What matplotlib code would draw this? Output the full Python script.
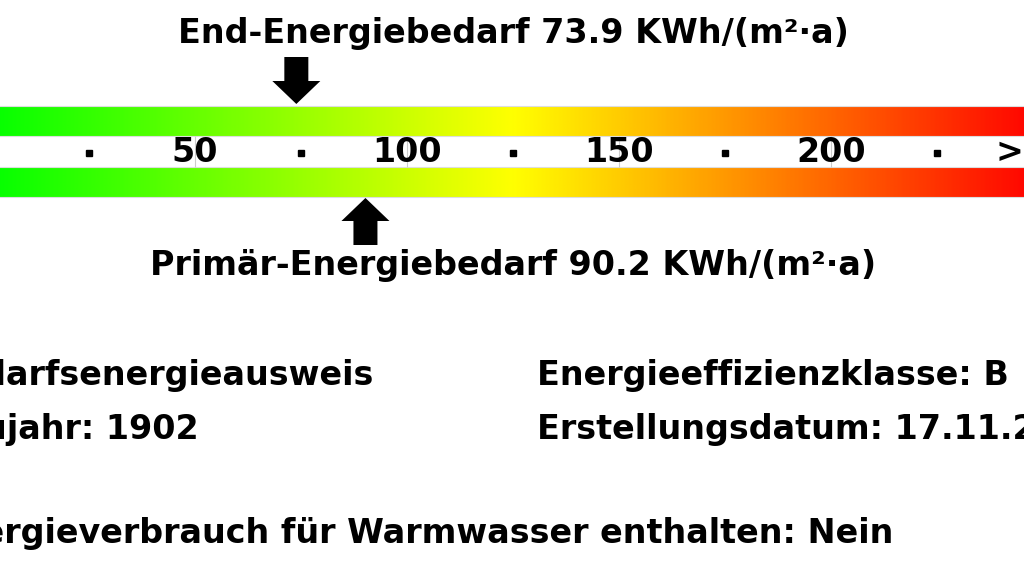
import matplotlib
matplotlib.use('Agg')
import matplotlib.pyplot as plt
from matplotlib.colors import LinearSegmentedColormap
import numpy as np

end_energy = 73.9
primary_energy = 90.2
scale_max = 250
label_values = [50, 100, 150, 200]
label_texts = ['50', '100', '150', '200']
dot_values = [25, 75, 125, 175, 225]
more_value = 242
more_text = '>'

end_title = 'End-Energiebedarf 73.9 KWh/(m²·a)'
primary_title = 'Primär-Energiebedarf 90.2 KWh/(m²·a)'
info_left = ['Bedarfsenergieausweis', 'Baujahr: 1902']
info_right = ['Energieeffizienzklasse: B', 'Erstellungsdatum: 17.11.2020']
info_bottom = 'Energieverbrauch für Warmwasser enthalten: Nein'

# value -> pixel mapping: 50 at 195 px, 200 at 831 px
px_per_unit = (831 - 195) / 150.0
x_lo = (0 - 195) / px_per_unit + 50
x_hi = (1024 - 195) / px_per_unit + 50


def px2v(px):
    return x_lo + px / px_per_unit


W, H = 1024, 576
FS = 24
fig = plt.figure(figsize=(W / 100, H / 100), dpi=100, facecolor='white')
ax = fig.add_axes([0, 0, 1, 1])
ax.set_xlim(x_lo, x_hi)
ax.set_ylim(H, 0)
ax.axis('off')

cmap = LinearSegmentedColormap.from_list(
    'energy', [(0.0, '#00ff00'), (0.5, '#ffff00'), (1.0, '#ff0000')])
grad = np.linspace(0, 1, 512).reshape(1, -1)

# two gradient bars
for top, bot in [(106, 136), (167, 197)]:
    ax.imshow(grad, cmap=cmap, aspect='auto',
              extent=(0, scale_max, bot, top), zorder=1)
    ax.hlines([top, bot], 0, scale_max, color='#dddddd', lw=0.8, zorder=2)

# scale in white strip
for v, t in zip(label_values, label_texts):
    ax.vlines(v, 136, 167, color='#cccccc', lw=0.8, zorder=2)
    ax.text(v, 153, t, ha='center', va='center', fontsize=FS,
            fontweight='bold', color='black', zorder=3)
ax.plot(dot_values, [153] * len(dot_values), 's', color='black',
        markersize=4, zorder=3)
ax.text(more_value, 153, more_text, ha='center', va='center', fontsize=FS,
        fontweight='bold', color='black', zorder=3)


def arrow(xv, tip, head_base, tail):
    hw = 24 / px_per_unit
    sw = 12 / px_per_unit
    xs = [xv, xv + hw, xv + sw, xv + sw, xv - sw, xv - sw, xv - hw]
    ys = [tip, head_base, head_base, tail, tail, head_base, head_base]
    ax.fill(xs, ys, color='black', lw=0, zorder=4)


arrow(end_energy, 104, 81, 57)
arrow(primary_energy, 198, 221, 245)

ax.text(px2v(513), 34, end_title, ha='center', va='center',
        fontsize=FS, fontweight='bold', color='black')
ax.text(px2v(513), 266, primary_title, ha='center', va='center',
        fontsize=FS, fontweight='bold', color='black')

# info block, cut by the left/right edges like the original
left_x = px2v(-65)
right_x = px2v(537)
for i, (l, r) in enumerate(zip(info_left, info_right)):
    y = 376 + i * 53
    ax.text(left_x, y, l, ha='left', va='center', fontsize=FS,
            fontweight='bold', color='black')
    ax.text(right_x, y, r, ha='left', va='center', fontsize=FS,
            fontweight='bold', color='black')
ax.text(left_x, 534, info_bottom, ha='left', va='center', fontsize=FS,
        fontweight='bold', color='black')

fig.savefig('out.png', dpi=100, facecolor='white')
